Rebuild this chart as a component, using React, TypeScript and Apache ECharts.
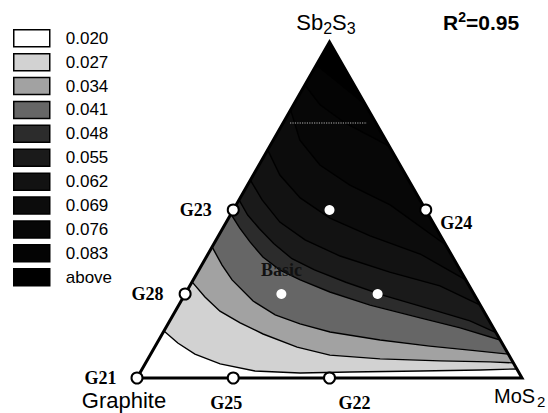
import React, { useEffect, useRef } from 'react';
import * as echarts from 'echarts';

// Upper bound of each shaded band, lightest first, and the grey used for it
const levelLabels = ['0.020', '0.027', '0.034', '0.041', '0.048', '0.055', '0.062', '0.069', '0.076', '0.083'];
const levelFills = ['#ffffff', '#d2d2d2', '#a2a2a2', '#666666', '#2c2c2c', '#1a1a1a', '#121212', '#0c0c0c', '#070707', '#040404'];
const aboveLabel = 'above';
const aboveFill = '#000000';

// Contour lines as [Sb2S3 %, MoS2 %] (Graphite is the remainder),
// running from the Graphite–Sb2S3 side to the MoS2–Sb2S3 side
const contour020 = [[14.0, 0], [10.4, 5.4], [7.1, 11.5], [4.2, 19.5], [2.1, 29.6], [1.5, 41.6], [1.8, 54.4], [2.1, 72.5], [2.4, 87.9], [2.7, 97.3]];
const contour027 = [[28.6, 0], [24.1, 5.6], [19.9, 11.6], [16.4, 18.6], [13.1, 26.2], [9.2, 37.0], [6.8, 46.7], [5.7, 60.3], [5.1, 76.2], [4.8, 89.3], [4.5, 95.5]];
const contour034 = [[39.0, 0], [33.6, 5.3], [29.2, 10.1], [22.9, 18.7], [18.8, 26.5], [16.1, 34.3], [13.7, 43.3], [11.3, 57.5], [9.5, 71.3], [8.3, 82.3], [7.1, 92.9]];
const contour041 = [[48.8, 0], [44.6, 4.4], [40.5, 9.1], [36.0, 14.7], [32.1, 21.1], [29.2, 27.8], [25.6, 37.3], [21.7, 49.7], [17.9, 64.6], [14.9, 76.5], [11.3, 88.7]];
const contour048 = [[53.0, 0], [48.5, 4.5], [44.5, 9.5], [40.0, 15.5], [35.5, 22.5], [32.2, 30.0], [28.5, 40.0], [24.5, 52.0], [20.5, 66.0], [17.0, 78.0], [13.5, 86.5]];
const contour055 = [[58.9, 0], [53.0, 6.0], [46.4, 13.9], [41.1, 23.1], [36.3, 34.6], [31.5, 49.9], [27.4, 65.0], [21.7, 78.3]];
const contour062 = [[67.9, 0], [60.4, 6.9], [53.6, 15.6], [47.6, 26.3], [42.3, 39.4], [36.9, 55.1], [29.2, 70.8]];
const contour069 = [[79.8, 0], [70.8, 6.9], [63.4, 15.8], [57.4, 26.6], [51.5, 40.0], [39.6, 60.4]];
const contour076 = [[87.2, 0], [81.3, 6.9], [75.9, 16.1], [69.0, 31.0]];
const contour083 = [[93.2, 0], [88.7, 7.1], [81.3, 18.7]];
const contours = [contour020, contour027, contour034, contour041, contour048, contour055, contour062, contour069, contour076, contour083];

// Faint iso-Sb2S3 guide inside the dark region
const guideSb2S3 = 75.9;
const guideMoS2 = [1.8, 21.8];

// Tested blends on the triangle's edges
const blendNames = ['G21', 'G25', 'G22', 'G28', 'G23', 'G24'];
const blendSb2S3 = [0, 0, 0, 25, 50, 50];
const blendMoS2 = [0, 25, 50, 0, 0, 50];

// Interior blends
const innerNames = ['Basic', '', ''];
const innerSb2S3 = [25, 25, 50];
const innerMoS2 = [25, 50, 25];

const rSquared = '0.95';

// Ternary composition -> plane coordinates (x across the base, y = Sb2S3 share)
const toXY = (sb: number, mo: number) => [mo / 100 + sb / 200, sb / 100];

const serifFont = '"Liberation Serif", "Times New Roman", serif';
const sansFont = '"Liberation Sans", Arial, sans-serif';

const blendLabelPlacement: Record<string, any> = {
  G21: { position: 'left', distance: 14 },
  G25: { position: 'bottom', distance: 9, offset: [-7, 0] },
  G22: { position: 'bottom', distance: 9, offset: [25, 0] },
  G28: { position: 'left', distance: 15 },
  G23: { position: 'left', distance: 15 },
  G24: { position: 'right', distance: 8, offset: [0, 13] },
};

function bandSeries(name: string, fill: string, line: number[][] | null) {
  return {
    type: 'custom',
    name,
    coordinateSystem: 'cartesian2d',
    silent: true,
    itemStyle: { color: fill },
    data: [[0, 0]],
    z: 2,
    renderItem: (_params: any, api: any) => {
      const g = api.coord([0, 0]);
      const m = api.coord([1, 0]);
      if (!line) {
        const s = api.coord([0.5, 1]);
        return {
          type: 'polygon',
          shape: { points: [g, m, s] },
          style: { fill, stroke: fill, lineWidth: 0.5 },
        };
      }
      const pts = line.map(([sb, mo]) => api.coord(toXY(sb, mo)));
      return {
        type: 'group',
        children: [
          {
            type: 'polygon',
            shape: { points: [...pts, m, g] },
            style: { fill, stroke: fill, lineWidth: 0.5 },
          },
          {
            type: 'polyline',
            shape: { points: pts },
            style: { stroke: '#000', lineWidth: 1.4, fill: null },
          },
        ],
      };
    },
  };
}

export default function App() {
  const ref = useRef<HTMLDivElement>(null);

  useEffect(() => {
    if (!ref.current) return;
    const chart = echarts.init(ref.current, null, { renderer: 'svg' });

    const bands: any[] = [bandSeries(aboveLabel, aboveFill, null)];
    for (let i = levelLabels.length - 1; i >= 0; i--) {
      bands.push(bandSeries(levelLabels[i], levelFills[i], contours[i]));
    }

    const frame = {
      type: 'custom',
      name: 'frame',
      coordinateSystem: 'cartesian2d',
      silent: true,
      data: [[0, 0]],
      z: 6,
      renderItem: (_p: any, api: any) => ({
        type: 'polygon',
        shape: { points: [api.coord([0, 0]), api.coord([1, 0]), api.coord([0.5, 1])] },
        style: { fill: null, stroke: '#000', lineWidth: 3, lineJoin: 'miter' },
      }),
    };

    const guide = {
      type: 'line',
      name: 'guide',
      silent: true,
      symbol: 'none',
      z: 4,
      data: guideMoS2.map((mo) => toXY(guideSb2S3, mo)),
      lineStyle: { color: '#b5b5b5', width: 1.2, type: 'dotted' },
    };

    const blends = {
      type: 'scatter',
      name: 'blends',
      silent: true,
      z: 8,
      symbol: 'circle',
      symbolSize: 11,
      itemStyle: { color: '#ffffff', borderColor: '#000', borderWidth: 2, opacity: 1 },
      label: {
        show: true,
        formatter: '{b}',
        color: '#000',
        fontFamily: serifFont,
        fontWeight: 'bold',
        fontSize: 18,
      },
      data: blendNames.map((n, i) => ({
        name: n,
        value: toXY(blendSb2S3[i], blendMoS2[i]),
        label: blendLabelPlacement[n],
      })),
    };

    const inner = {
      type: 'scatter',
      name: 'inner',
      silent: true,
      z: 8,
      symbol: 'circle',
      symbolSize: 10,
      itemStyle: { color: '#ffffff', borderWidth: 0, opacity: 1 },
      label: {
        show: true,
        formatter: '{b}',
        position: 'top',
        distance: 10,
        color: '#111',
        fontFamily: serifFont,
        fontWeight: 'bold',
        fontSize: 18,
      },
      data: innerNames.map((n, i) => ({
        name: n,
        value: toXY(innerSb2S3[i], innerMoS2[i]),
      })),
    };

    chart.setOption({
      animation: false,
      backgroundColor: '#ffffff',
      grid: { left: 137, top: 42, width: 385, height: 336 },
      xAxis: { type: 'value', min: 0, max: 1, show: false },
      yAxis: { type: 'value', min: 0, max: 1, show: false },
      legend: {
        orient: 'vertical',
        left: 13,
        top: 29,
        padding: 0,
        icon: 'rect',
        itemWidth: 36,
        itemHeight: 17,
        itemGap: 5.4,
        selectedMode: false,
        data: [...levelLabels, aboveLabel],
        itemStyle: { borderColor: '#000', borderWidth: 1.5 },
        textStyle: {
          fontFamily: sansFont,
          fontSize: 17,
          lineHeight: 17,
          color: '#000',
          padding: [0, 0, 0, 11],
        },
      },
      graphic: [
        {
          type: 'text',
          x: 326,
          y: 22,
          silent: true,
          style: {
            text: '{m|Sb}{s|2}{m|S}{s|3}',
            align: 'center',
            verticalAlign: 'middle',
            fill: '#000',
            rich: {
              m: { fontFamily: sansFont, fontSize: 22, lineHeight: 28 },
              s: { fontFamily: sansFont, fontSize: 16, lineHeight: 28, padding: [12, 0, 0, 0] },
            },
          },
        },
        {
          type: 'text',
          x: 124,
          y: 400,
          silent: true,
          style: {
            text: 'Graphite',
            align: 'center',
            verticalAlign: 'middle',
            fill: '#000',
            font: `22px ${sansFont}`,
          },
        },
        {
          type: 'text',
          x: 494,
          y: 396,
          silent: true,
          style: {
            text: '{m|MoS}{s|2}',
            align: 'left',
            verticalAlign: 'middle',
            fill: '#000',
            rich: {
              m: { fontFamily: sansFont, fontSize: 20, lineHeight: 26 },
              s: { fontFamily: sansFont, fontSize: 15, lineHeight: 26, padding: [10, 0, 0, 2] },
            },
          },
        },
        {
          type: 'text',
          x: 443,
          y: 22,
          silent: true,
          style: {
            text: `{m|R}{p|2}{m|=${rSquared}}`,
            align: 'left',
            verticalAlign: 'middle',
            fill: '#000',
            rich: {
              m: { fontFamily: sansFont, fontSize: 21, fontWeight: 'bold', lineHeight: 28 },
              p: { fontFamily: sansFont, fontSize: 14, fontWeight: 'bold', lineHeight: 28, padding: [0, 0, 10, 0] },
            },
          },
        },
      ],
      series: [...bands, guide, frame, blends, inner],
    });

    return () => chart.dispose();
  }, []);

  return (
    <div
      ref={ref}
      style={{ position: 'fixed', left: 0, top: 0, width: 548, height: 413, background: '#fff' }}
    />
  );
}
